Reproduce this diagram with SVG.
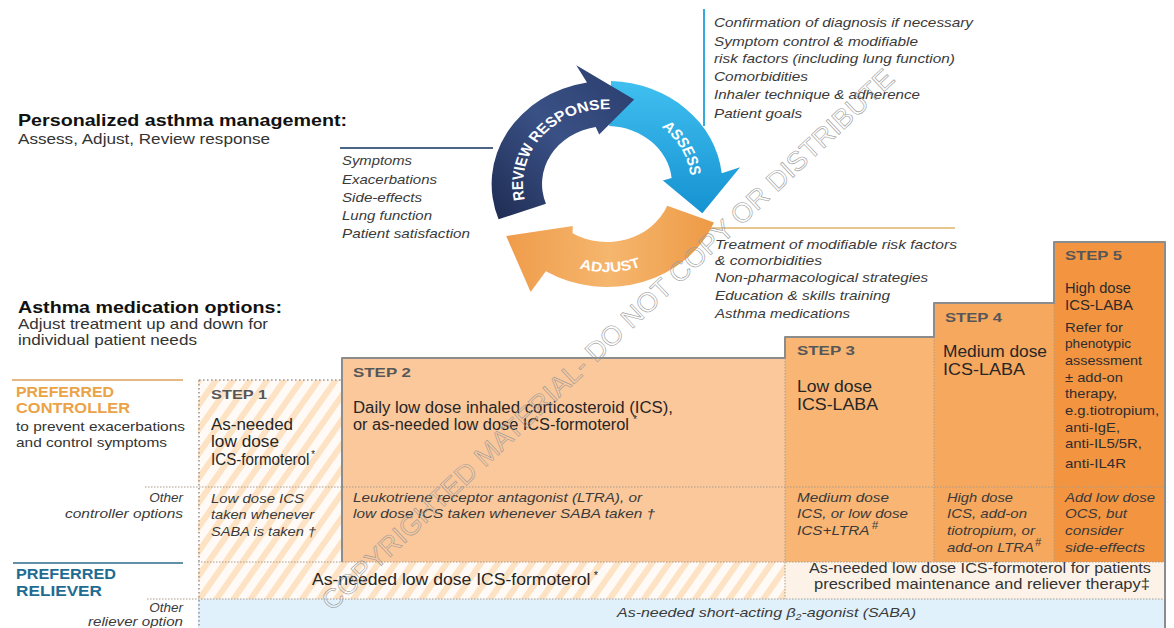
<svg xmlns="http://www.w3.org/2000/svg" width="1174" height="628" viewBox="0 0 1174 628">
<defs>
<style>
text{font-family:"Liberation Sans",Arial,Helvetica,sans-serif;fill:#2b2b2b}
.hd{font-weight:bold;font-size:17px;fill:#111}
.sub{font-size:15px;fill:#333}
.li{font-style:italic;font-size:13.5px;fill:#3a3a3a}
.lab{font-weight:bold;font-size:14.5px}
.or{fill:#eca246}
.tl{fill:#1f6c92}
.desc{font-size:13.5px;fill:#333}
.step{font-weight:bold;font-size:13px;fill:#575757}
.big{font-size:16px;fill:#262626}
.s5{font-size:13px;fill:#2e2e2e}
.s5b{font-size:14px;fill:#2a2a2a}
.oi{font-style:italic;font-size:13.5px;fill:#3a3a3a}
.sp{font-size:10px}
.cyc{font-weight:bold;font-size:14px;fill:#fff}
.dot{stroke:#a99c8d;stroke-width:1;stroke-dasharray:1.5 1.5;fill:none}
.dotg{stroke:#9a9a9a;stroke-width:1.6;stroke-dasharray:1.6 2.4;fill:none}
.wm{font-size:27px;fill:none;stroke:#9a9a9a;stroke-width:0.6}
</style>
<pattern id="stripes" width="14" height="14" patternUnits="userSpaceOnUse" patternTransform="rotate(35)">
<rect width="14" height="14" fill="#fffaf5"/>
<rect width="6" height="14" fill="#fde2c4"/>
</pattern>
<linearGradient id="gReview" x1="0" y1="1" x2="1" y2="0">
<stop offset="0" stop-color="#1f2c52"/>
<stop offset="0.5" stop-color="#3a5186"/>
<stop offset="1" stop-color="#2a3d6c"/>
</linearGradient>
<linearGradient id="gAssess" x1="0" y1="0" x2="0" y2="1">
<stop offset="0" stop-color="#40bff0"/>
<stop offset="1" stop-color="#1592d1"/>
</linearGradient>
<linearGradient id="gAdjust" x1="1" y1="0" x2="0" y2="0">
<stop offset="0" stop-color="#ee9a45"/>
<stop offset="0.5" stop-color="#f5b66e"/>
<stop offset="1" stop-color="#ef9c4a"/>
</linearGradient>
<path id="pReview" d="M-67.97,31.70 A75,75 0 0 1 19.41,-72.44"/>
<path id="pAssess" d="M37.5,-64.95 A75,75 0 0 1 74.82,5.23"/>
<path id="pAdjust" d="M-56.57,67.41 A88,88 0 0 0 61.13,63.30"/>
</defs>

<rect width="1174" height="628" fill="#fff"/>

<!-- headings -->
<g id="headings">
<text class="hd" x="18" y="126" textLength="329" lengthAdjust="spacingAndGlyphs">Personalized asthma management:</text>
<text class="sub" x="18" y="144" textLength="252" lengthAdjust="spacingAndGlyphs">Assess, Adjust, Review response</text>
<text class="hd" x="18" y="313" textLength="264" lengthAdjust="spacingAndGlyphs">Asthma medication options:</text>
<text class="sub" x="18" y="329" textLength="250" lengthAdjust="spacingAndGlyphs">Adjust treatment up and down for</text>
<text class="sub" x="18" y="345" textLength="179" lengthAdjust="spacingAndGlyphs">individual patient needs</text>
</g>

<!-- connectors: rules tying the lists to the cycle -->
<g id="connectors" fill="none" stroke-width="2">
<line x1="340" y1="148" x2="493" y2="148" stroke="#4d6585"/>
<line x1="704" y1="9" x2="704" y2="126" stroke="#35a8de"/>
<line x1="703" y1="228" x2="955" y2="228" stroke="#e8c68f"/>
<line x1="12" y1="380" x2="183" y2="380" stroke="#dca25c" stroke-width="1.5"/>
<line x1="13" y1="563" x2="183" y2="563" stroke="#2f6b8c" stroke-width="1.5"/>
</g>

<!-- management cycle -->
<g id="cycle" transform="translate(607,184) scale(1.12,1)">
<g id="adjust">
<path d="M95.50,38.58 A103,103 0 0 1 -54.58,87.35 L-68.20,108.00 L-90.00,52.00 L-30.57,42.07 L-30.74,49.19 A58,58 0 0 0 53.78,21.73 Z" fill="url(#gAdjust)"/>
<text class="cyc"><textPath href="#pAdjust" startOffset="50%" text-anchor="middle">ADJUST</textPath></text>
</g>
<g id="assess">
<path d="M3.59,-102.94 A103,103 0 0 1 102.44,-10.77 L118.83,-16.70 L85.10,29.30 L49.88,-3.49 L57.68,-6.06 A58,58 0 0 0 2.02,-57.96 Z" fill="url(#gAssess)"/>
<text class="cyc"><textPath href="#pAssess" startOffset="50%" text-anchor="middle">ASSESS</textPath></text>
</g>
<g id="review">
<path d="M-96.79,35.23 A103,103 0 0 1 -17.89,-101.44 L-27.44,-118.87 L24.26,-84.59 L-6.96,-49.51 L-10.07,-57.12 A58,58 0 0 0 -54.50,19.84 Z" fill="url(#gReview)"/>
<text class="cyc"><textPath href="#pReview" startOffset="50%" text-anchor="middle">REVIEW RESPONSE</textPath></text>
</g>
</g>

<!-- lists beside the cycle -->
<g id="review-list">
<text class="li" x="342" y="165" textLength="70" lengthAdjust="spacingAndGlyphs">Symptoms</text>
<text class="li" x="342" y="184" textLength="95" lengthAdjust="spacingAndGlyphs">Exacerbations</text>
<text class="li" x="342" y="202" textLength="80" lengthAdjust="spacingAndGlyphs">Side-effects</text>
<text class="li" x="342" y="220" textLength="90" lengthAdjust="spacingAndGlyphs">Lung function</text>
<text class="li" x="342" y="238" textLength="128" lengthAdjust="spacingAndGlyphs">Patient satisfaction</text>
</g>
<g id="assess-list">
<text class="li" x="714" y="27" textLength="259" lengthAdjust="spacingAndGlyphs">Confirmation of diagnosis if necessary</text>
<text class="li" x="714" y="46" textLength="204" lengthAdjust="spacingAndGlyphs">Symptom control &amp; modifiable</text>
<text class="li" x="714" y="63" textLength="241" lengthAdjust="spacingAndGlyphs">risk factors (including lung function)</text>
<text class="li" x="714" y="81" textLength="94" lengthAdjust="spacingAndGlyphs">Comorbidities</text>
<text class="li" x="714" y="99" textLength="206" lengthAdjust="spacingAndGlyphs">Inhaler technique &amp; adherence</text>
<text class="li" x="714" y="118" textLength="88" lengthAdjust="spacingAndGlyphs">Patient goals</text>
</g>
<g id="adjust-list">
<text class="li" x="715" y="249" textLength="242" lengthAdjust="spacingAndGlyphs">Treatment of modifiable risk factors</text>
<text class="li" x="715" y="265" textLength="107" lengthAdjust="spacingAndGlyphs">&amp; comorbidities</text>
<text class="li" x="715" y="282" textLength="213" lengthAdjust="spacingAndGlyphs">Non-pharmacological strategies</text>
<text class="li" x="715" y="300" textLength="175" lengthAdjust="spacingAndGlyphs">Education &amp; skills training</text>
<text class="li" x="715" y="318" textLength="135" lengthAdjust="spacingAndGlyphs">Asthma medications</text>
</g>

<!-- step backgrounds -->
<g id="step-fills">
<rect x="198" y="380" width="144" height="182" fill="url(#stripes)"/>
<rect x="198" y="562" width="587" height="37" fill="url(#stripes)"/>
<rect x="785" y="562" width="380" height="37" fill="#fdf2e7"/>
<rect x="198" y="599" width="967" height="29" fill="#e0f1fb"/>
<rect x="342" y="358" width="443" height="204" fill="#fbc89c"/>
<rect x="785" y="337" width="149" height="225" fill="#f8b574"/>
<rect x="934" y="303" width="120" height="259" fill="#f6a85e"/>
<rect x="1054" y="242" width="111" height="320" fill="#f39441"/>
</g>

<!-- grid lines -->
<g id="grid">
<line class="dot" x1="785" y1="358" x2="785" y2="599"/>
<line class="dot" x1="934" y1="337" x2="934" y2="562"/>
<line class="dot" x1="1054" y1="303" x2="1054" y2="562"/>
<line class="dot" x1="145" y1="487" x2="1165" y2="487"/>
<line class="dot" x1="198" y1="562" x2="1165" y2="562"/>
<line class="dot" x1="147" y1="599" x2="1165" y2="599"/>
<line class="dotg" x1="199" y1="380" x2="342" y2="380"/>
<line class="dotg" x1="199" y1="380" x2="199" y2="628"/>
<path d="M342,562 V358 H785 V337 H934 V303 H1054 V242 H1165 V628" fill="none" stroke="#8c8c8c" stroke-width="2" stroke-linejoin="round"/>
</g>

<!-- row labels -->
<g id="controller-label">
<text class="lab or" x="16" y="397" textLength="98" lengthAdjust="spacingAndGlyphs">PREFERRED</text>
<text class="lab or" x="16" y="413" textLength="114" lengthAdjust="spacingAndGlyphs">CONTROLLER</text>
<text class="desc" x="16" y="431" textLength="169" lengthAdjust="spacingAndGlyphs">to prevent exacerbations</text>
<text class="desc" x="16" y="447" textLength="151" lengthAdjust="spacingAndGlyphs">and control symptoms</text>
<text class="oi" x="183" y="502" text-anchor="end">Other</text>
<text class="oi" x="65" y="518" textLength="118" lengthAdjust="spacingAndGlyphs">controller options</text>
</g>
<g id="reliever-label">
<text class="lab tl" x="16" y="579" textLength="100" lengthAdjust="spacingAndGlyphs">PREFERRED</text>
<text class="lab tl" x="16" y="596" textLength="86" lengthAdjust="spacingAndGlyphs">RELIEVER</text>
<text class="oi" x="183" y="612" text-anchor="end">Other</text>
<text class="oi" x="88" y="626" textLength="95" lengthAdjust="spacingAndGlyphs">reliever option</text>
</g>

<!-- steps -->
<g id="step1">
<text class="step" x="211" y="399" textLength="56" lengthAdjust="spacingAndGlyphs">STEP 1</text>
<text class="big" x="211" y="430" textLength="82" lengthAdjust="spacingAndGlyphs">As-needed</text>
<text class="big" x="211" y="447" textLength="68" lengthAdjust="spacingAndGlyphs">low dose</text>
<text class="big" x="211" y="465" textLength="104" lengthAdjust="spacingAndGlyphs">ICS-formoterol<tspan class="sp" dx="2" dy="-7">*</tspan></text>
<text class="oi" x="211" y="503" textLength="93" lengthAdjust="spacingAndGlyphs">Low dose ICS</text>
<text class="oi" x="211" y="519" textLength="103" lengthAdjust="spacingAndGlyphs">taken whenever</text>
<text class="oi" x="211" y="536" textLength="105" lengthAdjust="spacingAndGlyphs">SABA is taken †</text>
</g>
<g id="step2">
<text class="step" x="353" y="377" textLength="58" lengthAdjust="spacingAndGlyphs">STEP 2</text>
<text class="big" x="353" y="413" textLength="320" lengthAdjust="spacingAndGlyphs">Daily low dose inhaled corticosteroid (ICS),</text>
<text class="big" x="353" y="430" textLength="284" lengthAdjust="spacingAndGlyphs">or as-needed low dose ICS-formoterol<tspan class="sp" dx="4" dy="-7">*</tspan></text>
<text class="oi" x="353" y="502" textLength="289" lengthAdjust="spacingAndGlyphs">Leukotriene receptor antagonist (LTRA), or</text>
<text class="oi" x="353" y="518" textLength="302" lengthAdjust="spacingAndGlyphs">low dose ICS taken whenever SABA taken †</text>
</g>
<g id="step3">
<text class="step" x="797" y="355" textLength="58" lengthAdjust="spacingAndGlyphs">STEP 3</text>
<text class="big" x="797" y="392" textLength="75" lengthAdjust="spacingAndGlyphs">Low dose</text>
<text class="big" x="797" y="410" textLength="81" lengthAdjust="spacingAndGlyphs">ICS-LABA</text>
<text class="oi" x="797" y="502" textLength="92" lengthAdjust="spacingAndGlyphs">Medium dose</text>
<text class="oi" x="797" y="518" textLength="111" lengthAdjust="spacingAndGlyphs">ICS, or low dose</text>
<text class="oi" x="797" y="535" textLength="81" lengthAdjust="spacingAndGlyphs">ICS+LTRA<tspan class="sp" dx="2" dy="-6">#</tspan></text>
</g>
<g id="step4">
<text class="step" x="945" y="322" textLength="57" lengthAdjust="spacingAndGlyphs">STEP 4</text>
<text class="big" x="943" y="357" textLength="104" lengthAdjust="spacingAndGlyphs">Medium dose</text>
<text class="big" x="943" y="375" textLength="82" lengthAdjust="spacingAndGlyphs">ICS-LABA</text>
<text class="oi" x="947" y="502" textLength="66" lengthAdjust="spacingAndGlyphs">High dose</text>
<text class="oi" x="947" y="518" textLength="80" lengthAdjust="spacingAndGlyphs">ICS, add-on</text>
<text class="oi" x="947" y="535" textLength="88" lengthAdjust="spacingAndGlyphs">tiotropium, or</text>
<text class="oi" x="947" y="552" textLength="94" lengthAdjust="spacingAndGlyphs">add-on LTRA<tspan class="sp" dx="1" dy="-6">#</tspan></text>
</g>
<g id="step5">
<text class="step" x="1065" y="260" textLength="57" lengthAdjust="spacingAndGlyphs">STEP 5</text>
<text class="s5b" x="1065" y="293" textLength="66" lengthAdjust="spacingAndGlyphs">High dose</text>
<text class="s5b" x="1065" y="310" textLength="68" lengthAdjust="spacingAndGlyphs">ICS-LABA</text>
<text class="s5" x="1065" y="332" textLength="58" lengthAdjust="spacingAndGlyphs">Refer for</text>
<text class="s5" x="1065" y="348" textLength="66" lengthAdjust="spacingAndGlyphs">phenotypic</text>
<text class="s5" x="1065" y="365" textLength="77" lengthAdjust="spacingAndGlyphs">assessment</text>
<text class="s5" x="1065" y="382" textLength="58" lengthAdjust="spacingAndGlyphs">± add-on</text>
<text class="s5" x="1065" y="398" textLength="52" lengthAdjust="spacingAndGlyphs">therapy,</text>
<text class="s5" x="1065" y="415" textLength="94" lengthAdjust="spacingAndGlyphs">e.g.tiotropium,</text>
<text class="s5" x="1065" y="432" textLength="55" lengthAdjust="spacingAndGlyphs">anti-IgE,</text>
<text class="s5" x="1065" y="448" textLength="77" lengthAdjust="spacingAndGlyphs">anti-IL5/5R,</text>
<text class="s5" x="1065" y="468" textLength="61" lengthAdjust="spacingAndGlyphs">anti-IL4R</text>
<text class="oi" x="1065" y="502" textLength="90" lengthAdjust="spacingAndGlyphs">Add low dose</text>
<text class="oi" x="1065" y="518" textLength="62" lengthAdjust="spacingAndGlyphs">OCS, but</text>
<text class="oi" x="1065" y="535" textLength="58" lengthAdjust="spacingAndGlyphs">consider</text>
<text class="oi" x="1065" y="552" textLength="80" lengthAdjust="spacingAndGlyphs">side-effects</text>
</g>

<!-- reliever rows -->
<g id="reliever">
<text class="big" x="312" y="585" textLength="286" lengthAdjust="spacingAndGlyphs">As-needed low dose ICS-formoterol<tspan class="sp" dx="3" dy="-6">*</tspan></text>
<text class="desc" x="809" y="573" textLength="342" lengthAdjust="spacingAndGlyphs" style="font-size:14.5px">As-needed low dose ICS-formoterol for patients</text>
<text class="desc" x="814" y="589" textLength="336" lengthAdjust="spacingAndGlyphs" style="font-size:14.5px">prescribed maintenance and reliever therapy‡</text>
</g>
<g id="other-reliever">
<text class="oi" x="617" y="617" textLength="299" lengthAdjust="spacingAndGlyphs">As-needed short-acting β<tspan font-size="9" dy="3">2</tspan><tspan dy="-3">-agonist (SABA)</tspan></text>
</g>

<!-- outlined diagonal notice -->
<text class="wm" transform="translate(332,612) rotate(-43.3)" textLength="775" lengthAdjust="spacingAndGlyphs">COPYRIGHTED MATERIAL- DO NOT COPY OR DISTRIBUTE</text>
</svg>
